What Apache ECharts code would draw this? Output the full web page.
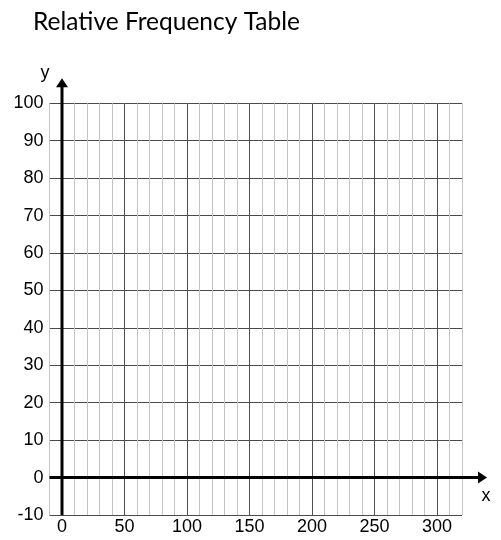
<!DOCTYPE html>
<html><head><meta charset="utf-8">
<script src="https://cdn.jsdelivr.net/npm/echarts@6/dist/echarts.min.js"></script>
<style>html,body{margin:0;padding:0;background:#fff}#c{width:501px;height:540px}</style>
</head><body><div id="c"></div>
<script>
const chartTitle = 'Relative Frequency Table';
const xRange = [-10, 320];
const yRange = [-10, 100];
const xMinorStep = 10;
const yStep = 10;
const xMajorLines = [50, 100, 150, 200, 250, 300];
const xTickLabels = [0, 50, 100, 150, 200, 250, 300];
const yTickLabels = [-10, 0, 10, 20, 30, 40, 50, 60, 70, 80, 90, 100];
const axisNames = ['x', 'y'];

const chart = echarts.init(document.getElementById('c'), null, {renderer: 'canvas'});
const FONT = "'Liberation Sans', Arial, sans-serif";
const labelFont = {fontFamily: FONT, fontSize: 18, color: '#000'};

chart.setOption({
  animation: false,
  title: {text: chartTitle, left: 28, top: 5,
    textStyle: {fontFamily: "Lato, sans-serif", fontWeight: 'normal', fontSize: 24.5, color: '#000'}},
  grid: {left: 49.5, right: 39, top: 103.3, bottom: 25, containLabel: false},
  xAxis: {
    type: 'value', min: xRange[0], max: xRange[1], interval: xMinorStep,
    axisLine: {show: false, onZero: false},
    axisTick: {show: false},
    splitLine: {show: true, lineStyle: {color: '#c4c4c4', width: 1}},
    axisLabel: Object.assign({customValues: xTickLabels, margin: 3}, labelFont)
  },
  yAxis: {
    type: 'value', min: yRange[0], max: yRange[1], interval: yStep,
    axisLine: {show: false, onZero: false},
    axisTick: {show: false},
    splitLine: {show: true, lineStyle: {color: '#4a4a4a', width: 1}},
    axisLabel: Object.assign({customValues: yTickLabels, margin: 6}, labelFont)
  },
  series: [{
    type: 'line', data: [], silent: true,
    markLine: {
      silent: true, symbol: 'none', label: {show: false},
      lineStyle: {color: '#505050', width: 1, type: 'solid'},
      data: xMajorLines.map(v => ({xAxis: v}))
    }
  }]
});

function drawAxes() {
  const o = chart.convertToPixel({gridIndex: 0}, [0, 0]);
  const bl = chart.convertToPixel({gridIndex: 0}, [xRange[0], yRange[0]]);
  const tr = chart.convertToPixel({gridIndex: 0}, [xRange[1], yRange[1]]);
  const ext = 25;
  const yTip = tr[1] - ext;
  const xTip = tr[0] + ext;
  const nameFont = "18px 'Liberation Sans', Arial, sans-serif";
  chart.setOption({graphic: [
    {type: 'line', shape: {x1: o[0], y1: bl[1], x2: o[0], y2: yTip + 6}, style: {stroke: '#000', lineWidth: 3}, z: 100},
    {type: 'polygon', shape: {points: [[o[0], yTip], [o[0] - 6, yTip + 9], [o[0] + 6, yTip + 9]]}, style: {fill: '#000'}, z: 100},
    {type: 'line', shape: {x1: bl[0], y1: o[1], x2: xTip - 6, y2: o[1]}, style: {stroke: '#000', lineWidth: 3}, z: 100},
    {type: 'polygon', shape: {points: [[xTip, o[1]], [xTip - 9, o[1] - 6], [xTip - 9, o[1] + 6]]}, style: {fill: '#000'}, z: 100},
    {type: 'text', x: xTip - 1, y: o[1] + 18, style: {text: axisNames[0], font: nameFont, fill: '#000', align: 'center', verticalAlign: 'middle'}, z: 100},
    {type: 'text', x: o[0] - 17, y: yTip - 5, style: {text: axisNames[1], font: nameFont, fill: '#000', align: 'center', verticalAlign: 'middle'}, z: 100}
  ]});
}
drawAxes();
</script></body></html>
